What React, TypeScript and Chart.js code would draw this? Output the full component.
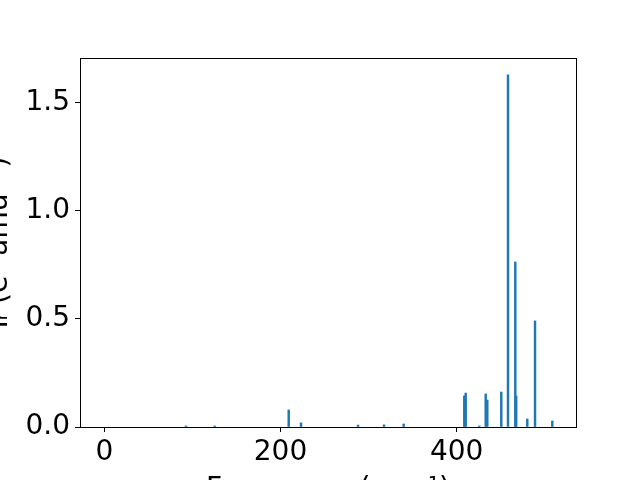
import React, { useEffect, useRef } from "react";
import { Chart, registerables } from "chart.js";

Chart.register(...registerables);

const frequencies = [92.7, 125.3, 209.3, 223.3, 288.0, 317.5, 339.8, 408.6, 410.2, 425.7, 432.9, 434.7, 450.6, 458.2, 466.5, 467.5, 480.1, 488.9, 508.5];
const intensities = [0.005, 0.005, 0.079, 0.019, 0.009, 0.010, 0.014, 0.144, 0.157, 0.005, 0.153, 0.125, 0.162, 1.63, 0.764, 0.143, 0.037, 0.491, 0.028];
const xTicks = [0, 200, 400];
const yTicks = [0, 0.5, 1.0, 1.5];
const xLabel = "Frequency (cm⁻¹)";
const yLabel = "Iᵣ (e² amu⁻¹)";

const FONT = "'DejaVu Sans', sans-serif";

const framePlugin = {
  id: "frame",
  afterDraw(chart: any) {
    const { ctx, chartArea } = chart;
    ctx.save();
    ctx.strokeStyle = "#000";
    ctx.lineWidth = 1;
    ctx.strokeRect(
      Math.round(chartArea.left) + 0.5,
      Math.round(chartArea.top) + 0.5,
      Math.round(chartArea.right - chartArea.left),
      Math.round(chartArea.bottom - chartArea.top)
    );
    ctx.restore();
  },
};

export default function App() {
  const ref = useRef<HTMLCanvasElement | null>(null);
  useEffect(() => {
    if (!ref.current) return;
    const data = frequencies.map((f, i) => ({ x: f, y: intensities[i] }));
    const chart = new Chart(ref.current, {
      type: "bar",
      data: {
        datasets: [
          {
            data: data as any,
            backgroundColor: "#1f77b4",
            borderWidth: 0,
            barThickness: 1.8,
          } as any,
        ],
      },
      options: {
        animation: false,
        responsive: false,
        layout: { padding: { top: 58, right: 64, left: 0, bottom: 0 } },
        plugins: { legend: { display: false }, tooltip: { enabled: false } },
        scales: {
          x: {
            type: "linear",
            min: -27.6,
            max: 535.4,
            offset: false,
            grid: { offset: false, drawOnChartArea: false, drawTicks: true, tickLength: 5, tickColor: "#000", tickWidth: 1 },
            border: { display: true, color: "#000", width: 1 },
            afterBuildTicks: (scale: any) => {
              scale.ticks = xTicks.map((v) => ({ value: v }));
            },
            afterFit: (scale: any) => {
              scale.height = 53;
            },
            ticks: {
              color: "#000",
              padding: 4,
              maxRotation: 0,
              font: { family: FONT, size: 28 },
              callback: (v: any) => String(v),
            },
            title: {
              display: true,
              text: xLabel,
              color: "#000",
              font: { family: FONT, size: 28 },
              padding: { top: 0, bottom: -26.8 },
            },
          },
          y: {
            type: "linear",
            min: 0,
            max: 1.708,
            grid: { drawOnChartArea: false, drawTicks: true, tickLength: 5, tickColor: "#000", tickWidth: 1 },
            border: { display: true, color: "#000", width: 1 },
            afterBuildTicks: (scale: any) => {
              scale.ticks = yTicks.map((v) => ({ value: v }));
            },
            afterFit: (scale: any) => {
              scale.width = 80;
            },
            ticks: {
              color: "#000",
              padding: 5,
              font: { family: FONT, size: 28 },
              callback: (v: any) => Number(v).toFixed(1),
            },
            title: {
              display: true,
              text: yLabel,
              color: "#000",
              font: { family: FONT, size: 28 },
              padding: { top: -16.8, bottom: 0 },
            },
          },
        },
      },
      plugins: [framePlugin],
    });
    return () => chart.destroy();
  }, []);
  return (
    <div style={{ position: "fixed", left: 0, top: 0, width: 640, height: 480, background: "#fff" }}>
      <canvas ref={ref} width={640} height={480} style={{ width: 640, height: 480 }} />
    </div>
  );
}
